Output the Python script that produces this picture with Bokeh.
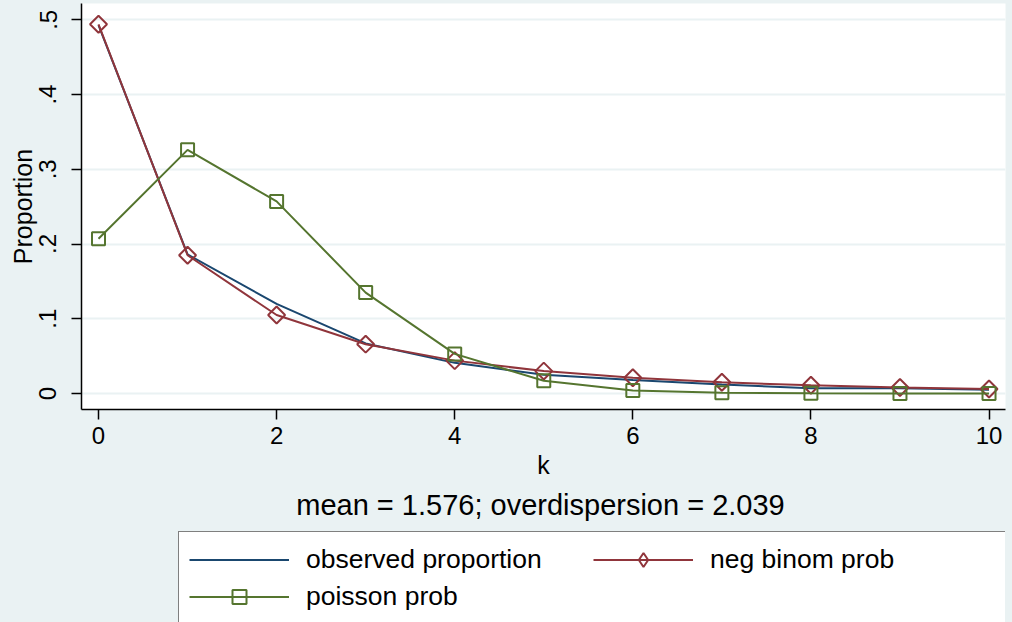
import math
from bokeh.plotting import figure
from bokeh.layouts import column
from bokeh.models import (Range1d, FixedTicker, Legend, LegendItem, Label)
from bokeh.embed import file_html
from bokeh.resources import INLINE

# ---- data ----
k_values = [0, 1, 2, 3, 4, 5, 6, 7, 8, 9, 10]
observed_prop = [0.493, 0.186, 0.120, 0.067, 0.041, 0.025, 0.018, 0.012, 0.007, 0.007, 0.005]
negbin_prob = [0.494, 0.185, 0.105, 0.066, 0.044, 0.030, 0.021, 0.015, 0.011, 0.008, 0.006]
poisson_prob = [0.207, 0.326, 0.257, 0.135, 0.053, 0.017, 0.004, 0.001, 0.0002, 0.0, 0.0]

x_ticks = [0, 2, 4, 6, 8, 10]
y_ticks = [0, 0.1, 0.2, 0.3, 0.4, 0.5]
y_tick_labels = ["0", ".1", ".2", ".3", ".4", ".5"]
series_names = ["observed proportion", "neg binom prob", "poisson prob"]
caption = "mean = 1.576; overdispersion = 2.039"

BG = "#EAF2F3"
NAVY = "#1A476F"
MAROON = "#90353B"
GREEN = "#55752F"
FONT = "Liberation Sans"

W, H = 1012, 622
H1 = 490
H2 = H - H1
FL, FR, FT, FB = 81, 1005, 3, 409


def add_series(fig, legend_keys=False):
    r_obs = fig.line(k_values, observed_prop, line_color=NAVY, line_width=2)
    r_nb_l = fig.line(k_values, negbin_prob, line_color=MAROON, line_width=2)
    if legend_keys:
        # legend keys ignore marker angle, so use Bokeh's diamond marker there
        r_nb_m = fig.scatter(k_values, negbin_prob, marker="diamond", size=16,
                             line_color=MAROON, line_width=2, fill_alpha=0)
    else:
        r_nb_m = fig.scatter(k_values, negbin_prob, marker="square", angle=math.pi / 4,
                             size=12, line_color=MAROON, line_width=2, fill_alpha=0)
    r_po_l = fig.line(k_values, poisson_prob, line_color=GREEN, line_width=2)
    r_po_m = fig.scatter(k_values, poisson_prob, marker="square", size=13,
                         line_color=GREEN, line_width=2, fill_alpha=0)
    return r_obs, r_nb_l, r_nb_m, r_po_l, r_po_m


p = figure(width=W, height=H1, output_backend="svg", toolbar_location=None,
           x_range=Range1d(-0.191, 10.185), y_range=Range1d(-0.0214, 0.5218),
           min_border_left=FL, min_border_right=W - FR,
           min_border_top=FT, min_border_bottom=H1 - FB)
p.border_fill_color = BG
p.background_fill_color = "white"
p.outline_line_color = None

# grids
p.xgrid.visible = False
p.ygrid.grid_line_color = BG
p.ygrid.grid_line_width = 2
p.ygrid.ticker = FixedTicker(ticks=y_ticks)

# x axis
xa = p.xaxis[0]
xa.ticker = FixedTicker(ticks=x_ticks)
xa.axis_label = "k"
xa.axis_line_color = "black"
xa.axis_line_width = 1.5
xa.major_tick_line_color = "black"
xa.major_tick_line_width = 1.5
xa.major_tick_out = 10
xa.major_tick_in = 0
xa.minor_tick_line_color = None
xa.major_label_text_font = FONT
xa.major_label_text_font_size = "24px"
xa.major_label_text_color = "black"
xa.major_label_standoff = 7
xa.axis_label_text_font = FONT
xa.axis_label_text_font_size = "25px"
xa.axis_label_text_font_style = "normal"
xa.axis_label_text_color = "black"
xa.axis_label_standoff = 4

# y axis
ya = p.yaxis[0]
ya.ticker = FixedTicker(ticks=y_ticks)
ya.major_label_overrides = {t: lab for t, lab in zip(y_ticks, y_tick_labels)}
ya.major_label_orientation = "vertical"
ya.axis_label = "Proportion"
ya.axis_line_color = "black"
ya.axis_line_width = 1.5
ya.major_tick_line_color = "black"
ya.major_tick_line_width = 1.5
ya.major_tick_out = 10
ya.major_tick_in = 0
ya.minor_tick_line_color = None
ya.major_label_text_font = FONT
ya.major_label_text_font_size = "24px"
ya.major_label_text_color = "black"
ya.major_label_standoff = 15
ya.axis_label_text_font = FONT
ya.axis_label_text_font_size = "25px"
ya.axis_label_text_font_style = "normal"
ya.axis_label_text_color = "black"
ya.axis_label_standoff = 0

add_series(p)

# ---- lower panel: caption and legend (frame aligned with the plot's frame) ----
p2 = figure(width=W, height=H2, output_backend="svg", toolbar_location=None,
            x_range=Range1d(-200, -199), y_range=Range1d(-200, -199),
            min_border_left=FL, min_border_right=W - FR, min_border_top=0,
            min_border_bottom=0, x_axis_type=None, y_axis_type=None)
p2.border_fill_color = BG
p2.background_fill_color = BG
p2.outline_line_color = None
p2.grid.visible = False

p2.add_layout(Label(x=540 - FL, y=H - 504, x_units="screen", y_units="screen",
                    text=caption, text_align="center", text_baseline="middle",
                    text_font=FONT, text_font_size="29px", text_color="black"))

# same series in the lower panel, outside its visible range: used only as legend keys
k_obs, k_nb_l, k_nb_m, k_po_l, k_po_m = add_series(p2, legend_keys=True)

legend = Legend(items=[
    LegendItem(label=series_names[0], renderers=[k_obs]),
    LegendItem(label=series_names[1], renderers=[k_nb_l, k_nb_m]),
    LegendItem(label=series_names[2], renderers=[k_po_l, k_po_m]),
], orientation="horizontal", ncols=2, location=(178 - FL, H - 625))
legend.glyph_width = 100
legend.glyph_height = 35
legend.label_standoff = 17
legend.label_width = 285
legend.spacing = 2
legend.padding = 10
legend.margin = 0
legend.border_line_color = "black"
legend.border_line_width = 1
legend.background_fill_color = "white"
legend.background_fill_alpha = 1
legend.label_text_font = FONT
legend.label_text_font_size = "26.5px"
legend.label_text_color = "black"
p2.add_layout(legend, "center")

layout = column(p, p2, spacing=0)
html = file_html(layout, INLINE)
html = html.replace("<head>", "<head><style>html,body{margin:0;padding:0;background:%s;overflow:hidden}</style>" % BG, 1)
open("out.html", "w").write(html)
